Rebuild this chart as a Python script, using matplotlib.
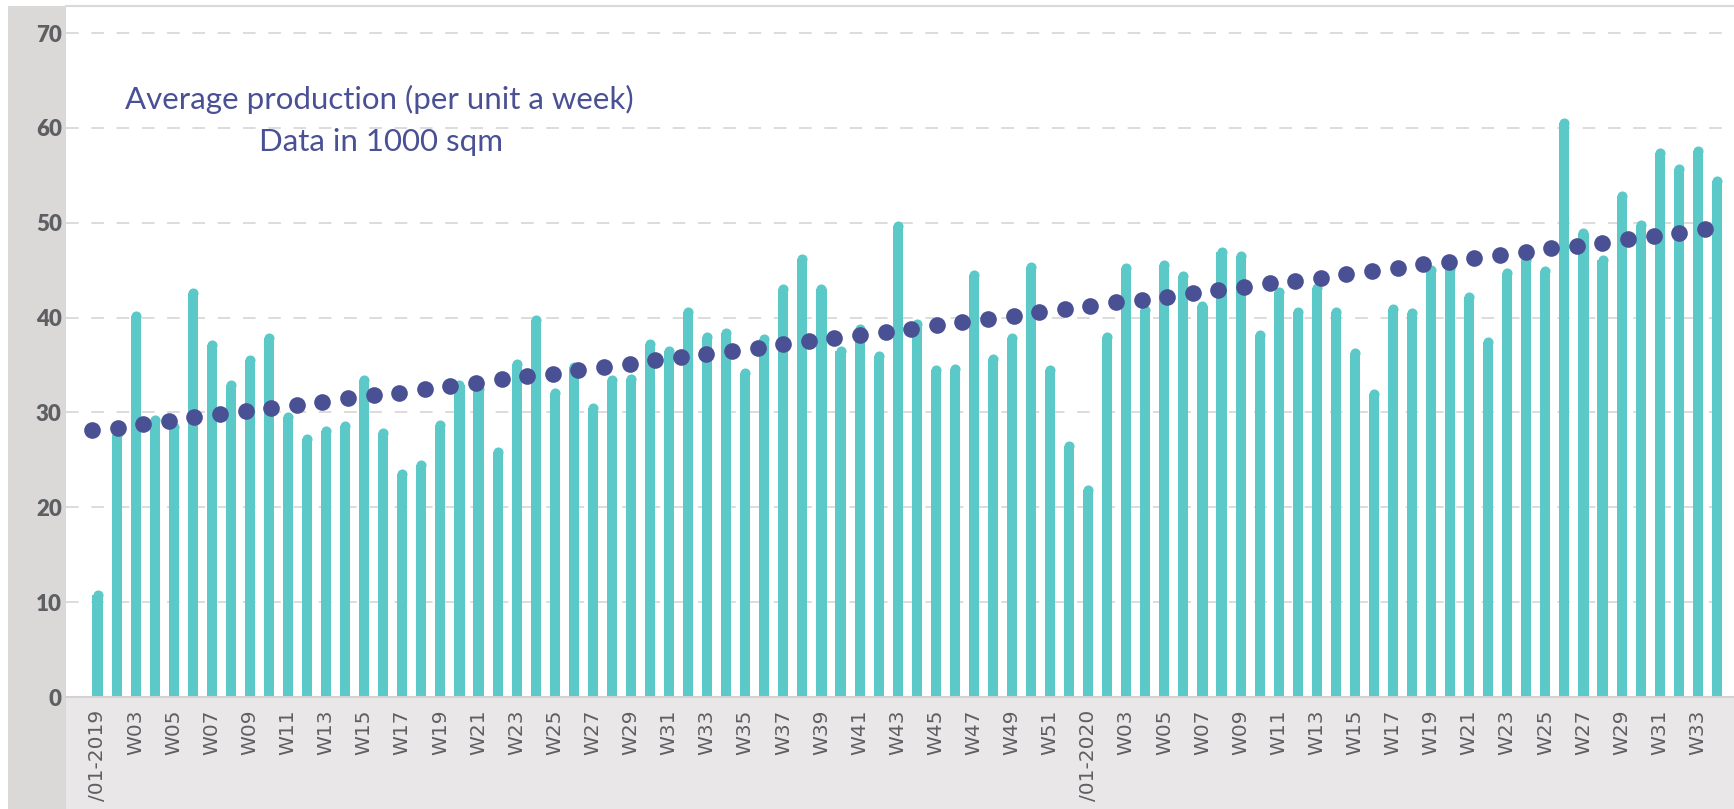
import matplotlib
matplotlib.use("Agg")
import matplotlib.pyplot as plt
from matplotlib.patches import Rectangle

# ---------------- data ----------------
production = [
    # 2019 W01..W52
    11.3, 28.2, 40.7, 29.7, 29.0, 43.1, 37.6, 33.4, 36.1, 38.4,
    30.1, 27.7, 28.6, 29.1, 34.0, 28.4, 24.0, 25.0, 29.2, 33.4,
    33.0, 26.4, 35.6, 40.3, 32.6, 35.3, 31.0, 33.9, 34.1, 37.8,
    37.0, 41.1, 38.5, 38.9, 34.7, 38.3, 43.5, 46.7, 43.5, 37.0,
    39.3, 36.5, 50.2, 39.9, 35.0, 35.1, 45.0, 36.2, 38.4, 45.9,
    35.0, 27.0,
    # 2020 W01..W34
    22.4, 38.5, 45.8, 41.3, 46.1, 44.9, 41.8, 47.4, 47.0, 38.7,
    43.2, 41.1, 43.7, 41.1, 36.8, 32.5, 41.4, 41.0, 45.6, 45.7,
    42.7, 38.0, 45.2, 46.6, 45.4, 61.1, 49.5, 46.6, 53.3, 50.3,
    57.9, 56.2, 58.1, 54.9,
]

average_trend = [
    28.1, 28.4, 28.8, 29.1, 29.5, 29.8, 30.1, 30.5, 30.8, 31.1,
    31.5, 31.8, 32.1, 32.5, 32.8, 33.1, 33.5, 33.8, 34.1, 34.5,
    34.8, 35.1, 35.5, 35.8, 36.2, 36.5, 36.8, 37.2, 37.5, 37.8,
    38.2, 38.5, 38.8, 39.2, 39.5, 39.9, 40.2, 40.6, 40.9, 41.2,
    41.6, 41.9, 42.2, 42.6, 42.9, 43.2, 43.6, 43.9, 44.2, 44.6,
    44.9, 45.2, 45.6, 45.9, 46.3, 46.6, 46.9, 47.3, 47.6, 47.9,
    48.3, 48.6, 48.9, 49.3,
]

tick_labels = [
    "/01-2019", "W03", "W05", "W07", "W09", "W11", "W13", "W15", "W17",
    "W19", "W21", "W23", "W25", "W27", "W29", "W31", "W33", "W35", "W37",
    "W39", "W41", "W43", "W45", "W47", "W49", "W51",
    "/01-2020", "W03", "W05", "W07", "W09", "W11", "W13", "W15", "W17",
    "W19", "W21", "W23", "W25", "W27", "W29", "W31", "W33",
]

y_ticks = [0, 10, 20, 30, 40, 50, 60, 70]

title_line1 = "Average production (per unit a week)"
title_line2 = "Data in 1000 sqm"

# ---------------- style ----------------
BAR_C = "#5CC9C9"
DOT_C = "#4A5094"
GRID_C = "#D9D9D9"
TICK_C = "#5E5F63"
plt.rcParams["font.family"] = ["Lato", "DejaVu Sans"]

W, H = 1734, 809
fig = plt.figure(figsize=(W / 100, H / 100), dpi=100)
fig.patch.set_facecolor("white")

# left grey panel and bottom label band (behind the axes)
fig.patches.append(Rectangle((8 / W, 0), (66 - 8) / W, 1 - 6 / H,
                             transform=fig.transFigure, facecolor="#DAD9D7",
                             edgecolor="none", zorder=-10))
fig.patches.append(Rectangle((66 / W, 0), 1 - 66 / W, 1 - 697 / H,
                             transform=fig.transFigure, facecolor="#E9E7E8",
                             edgecolor="none", zorder=-10))

ax = fig.add_axes([66 / W, 1 - 697 / H, (W - 66) / W, (697 - 6) / H])
ax.set_facecolor("white")
ax.set_zorder(1)
ax.set_xlim(-1.654, 85.9)
ax.set_ylim(0, 72.85)

# bars with rounded tops: a rectangle up to (value - cap radius) + a round cap
BAR_W = 0.53
fig.canvas.draw()
px_per_unit_x = ax.transData.transform((1, 0))[0] - ax.transData.transform((0, 0))[0]
px_per_unit_y = ax.transData.transform((0, 1))[1] - ax.transData.transform((0, 0))[1]
cap_r = BAR_W * px_per_unit_x / 2 / px_per_unit_y  # radius in y data units
x = list(range(len(production)))
ax.bar(x, [v - cap_r for v in production], width=BAR_W, color=BAR_C, zorder=2)
cap_ms = BAR_W * px_per_unit_x * 72 / fig.dpi
ax.plot(x, [v - cap_r for v in production], "o", ms=cap_ms, mew=0,
        color=BAR_C, zorder=2)

ax.set_yticks(y_ticks)
ax.set_yticklabels([str(v) for v in y_ticks])
ax.tick_params(axis="y", length=0, pad=3, labelsize=16, labelcolor=TICK_C)
for t in ax.get_yticklabels():
    t.set_fontweight("heavy")

ax.set_xticks(x[::2])
ax.set_xticklabels(tick_labels, rotation=90, va="top", ha="center",
                   family="DejaVu Sans")
ax.tick_params(axis="x", length=0, pad=9, labelsize=14.5, labelcolor=TICK_C)

ax.yaxis.grid(True, color=GRID_C, linestyle=(0, (7, 7)), linewidth=1.3)
ax.set_axisbelow(True)

for s in ("left", "right"):
    ax.spines[s].set_visible(False)
ax.spines["top"].set_color(GRID_C)
ax.spines["top"].set_linewidth(1.5)
ax.spines["bottom"].set_color("#D2D2D2")
ax.spines["bottom"].set_linewidth(1.5)

# trend dots on their own category scale
ax2 = ax.twiny()
ax2.plot(range(len(average_trend)), average_trend, "o", ms=12, mew=0,
         color=DOT_C, zorder=3)
ax2.set_xlim(-1.016, 64.14)
ax2.set_ylim(ax.get_ylim())
ax2.set_xticks([])
for s in ax2.spines.values():
    s.set_visible(False)

fig.text(379 / W, 1 - 99 / H, title_line1, ha="center", va="center",
         fontsize=22.5, color=DOT_C, zorder=5)
fig.text(381 / W, 1 - 142 / H, title_line2, ha="center", va="center",
         fontsize=22.5, color=DOT_C, zorder=5)

fig.savefig("out.png", dpi=100)
